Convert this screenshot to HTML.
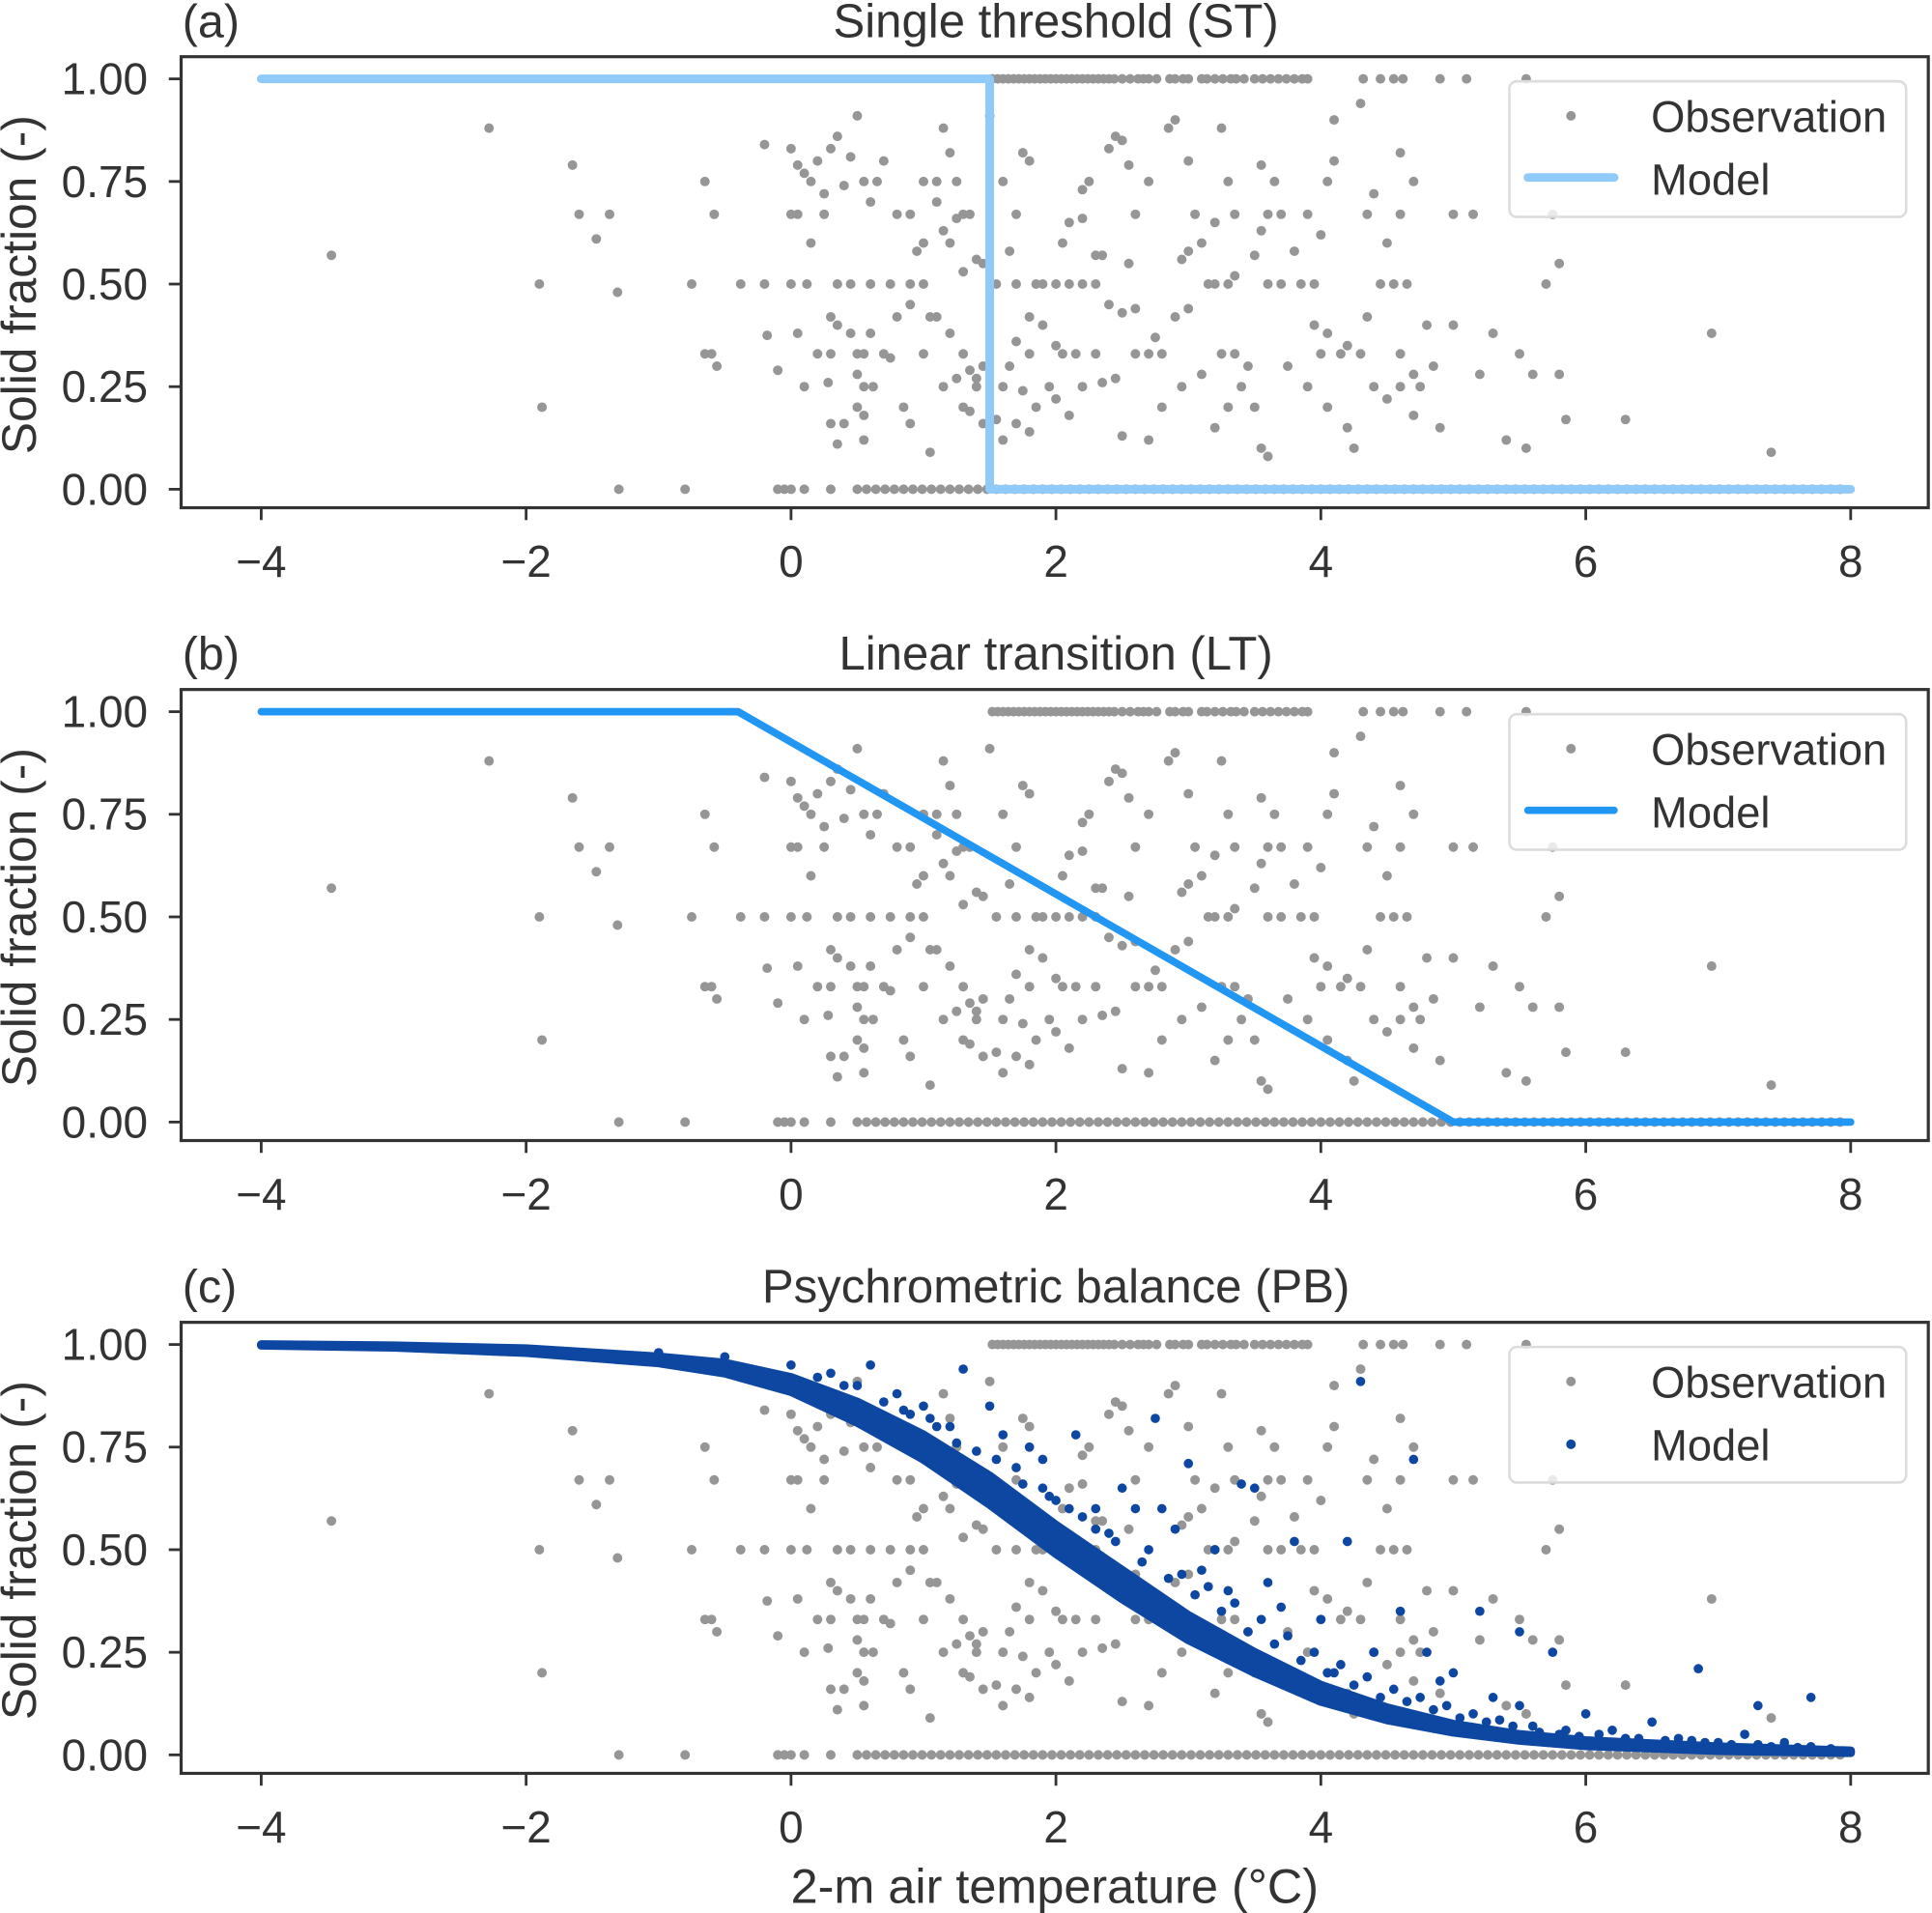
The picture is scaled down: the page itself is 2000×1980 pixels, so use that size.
<!DOCTYPE html>
<html><head><meta charset="utf-8"><style>
html,body{margin:0;padding:0;background:#fff;}
svg{display:block;}
text{font-family:"Liberation Sans",Arial,sans-serif;fill:#333;}
</style></head><body>
<svg id="fig" width="2000" height="1980" viewBox="0 0 1568 1552.3" xmlns="http://www.w3.org/2000/svg"></svg>
<script>
// ---- data ----
const xTicks = [-4, -2, 0, 2, 4, 6, 8];
const yTicks = [0, 0.25, 0.5, 0.75, 1.0];
const yTickLabels = ["0.00", "0.25", "0.50", "0.75", "1.00"];
const panelTitles = ["Single threshold (ST)", "Linear transition (LT)", "Psychrometric balance (PB)"];
const panelLetters = ["(a)", "(b)", "(c)"];
const obsTopX = [1.52,1.56,1.6,1.64,1.68,1.72,1.76,1.8,1.84,1.88,1.92,1.96,2.0,2.04,2.08,2.12,2.16,2.2,2.24,2.28,2.32,2.36,2.4,2.44,2.5,2.56,2.62,2.66,2.7,2.76,2.86,2.9,2.96,3.0,3.1,3.14,3.2,3.26,3.32,3.36,3.42,3.5,3.56,3.62,3.68,3.74,3.8,3.86,3.9,4.32,4.45,4.55,4.62,4.9,5.1,5.55];
const obsBottomX = [-1.3,-0.8,-0.1,-0.05,0.0,0.1,0.3,0.5,0.57,0.64,0.71,0.78,0.85,0.92,0.99,1.06,1.13,1.2,1.27,1.34,1.41,1.48,1.55,1.62,1.69,1.76,1.83,1.9,1.97,2.04,2.11,2.18,2.25,2.32,2.39,2.46,2.53,2.6,2.67,2.74,2.81,2.88,2.95,3.02,3.09,3.16,3.23,3.3,3.37,3.44,3.51,3.58,3.65,3.72,3.79,3.86,3.93,4.0,4.07,4.14,4.21,4.28,4.35,4.42,4.49,4.56,4.63,4.7,4.77,4.84,4.91,4.98,5.05,5.12,5.19,5.26,5.33,5.4,5.47,5.54,5.61,5.68,5.75,5.82,5.89,5.96,6.03,6.1,6.17,6.24,6.31,6.38,6.45,6.52,6.59,6.66,6.73,6.8,6.87,6.94,7.01,7.08,7.15,7.22,7.29,7.36,7.43,7.5,7.57,7.64,7.71,7.78,7.85,7.92];
const obsMidX = [-3.47,-2.28,-1.65,-1.6,-1.37,-1.47,-1.31,-1.9,-1.88,-0.75,-0.65,-0.58,-0.65,-0.6,-0.56,-0.38,-0.2,-0.18,-0.1,-0.2,
0.0,0.05,0.1,0.15,0.2,0.25,0.3,0.35,0.4,0.45,0.0,0.05,0.15,0.25,0.0,0.12,0.35,0.45,0.6,0.75,0.9,1.0,0.05,0.3,0.35,0.45,0.6,0.2,0.3,0.5,0.55,0.7,0.1,0.28,0.5,0.55,0.62,0.5,0.4,0.35,0.55,0.3,0.55,0.85,0.9,0.75,0.8,0.9,0.95,1.0,0.6,0.55,0.65,0.7,0.5,0.8,0.9,1.0,1.1,1.15,1.2,1.25,1.3,1.35,1.4,1.1,1.15,1.2,1.3,1.45,1.05,1.1,1.2,1.3,1.35,1.0,1.15,1.25,1.4,1.3,1.35,1.45,1.05,1.4,1.45,
1.6,1.7,1.8,1.75,1.65,1.55,1.7,1.85,1.9,2.0,2.1,2.2,2.3,1.8,1.9,1.7,2.0,1.65,1.8,1.95,1.6,1.75,1.85,2.0,2.1,1.7,1.8,1.55,1.6,2.05,2.15,2.3,2.2,2.35,2.45,2.6,2.7,2.8,2.4,2.5,2.6,2.75,2.2,2.25,2.4,2.45,2.5,2.55,2.3,2.35,2.1,2.2,2.05,2.6,2.7,2.85,2.9,3.0,3.05,3.15,3.2,3.3,3.35,3.0,2.95,3.1,3.2,3.35,3.3,2.9,3.0,2.8,2.95,3.1,3.25,3.35,3.45,3.4,3.5,3.3,3.2,3.55,3.6,2.7,2.5,
3.6,3.7,3.5,3.55,3.6,3.7,3.8,3.85,3.95,3.55,3.65,3.9,4.0,4.05,4.1,3.95,4.05,4.2,4.0,4.15,4.3,3.75,3.9,4.05,4.2,4.25,4.35,4.45,4.55,4.65,4.4,4.5,4.6,4.7,4.75,4.85,4.6,4.8,4.7,4.9,4.5,4.6,4.4,4.35,4.3,4.6,4.7,5.0,5.15,5.0,5.3,5.2,5.5,5.6,5.55,5.4,5.7,5.8,5.85,6.3,6.95,7.4,5.75,5.8,4.1,3.25,2.55,1.5,1.25];
const obsMidY = [0.57,0.88,0.79,0.67,0.67,0.61,0.48,0.5,0.2,0.5,0.75,0.67,0.33,0.33,0.3,0.5,0.5,0.375,0.29,0.84,
0.83,0.79,0.77,0.75,0.80,0.72,0.83,0.86,0.74,0.81,0.67,0.67,0.6,0.67,0.5,0.5,0.5,0.5,0.5,0.5,0.5,0.5,0.38,0.42,0.4,0.38,0.38,0.33,0.33,0.33,0.33,0.33,0.25,0.26,0.28,0.25,0.25,0.2,0.16,0.11,0.12,0.16,0.18,0.2,0.16,0.32,0.42,0.45,0.58,0.6,0.7,0.75,0.75,0.8,0.91,0.67,0.67,0.75,0.75,0.88,0.82,0.75,0.67,0.67,0.56,0.7,0.63,0.6,0.53,0.55,0.42,0.42,0.38,0.33,0.29,0.33,0.25,0.27,0.25,0.2,0.19,0.16,0.09,0.27,0.3,
0.75,0.67,0.8,0.82,0.58,0.5,0.5,0.5,0.5,0.5,0.5,0.5,0.5,0.42,0.4,0.36,0.35,0.3,0.33,0.25,0.25,0.24,0.2,0.22,0.18,0.16,0.14,0.17,0.12,0.33,0.33,0.33,0.25,0.26,0.27,0.33,0.33,0.33,0.45,0.43,0.44,0.37,0.73,0.75,0.83,0.86,0.85,0.79,0.57,0.57,0.65,0.66,0.6,0.67,0.75,0.88,0.9,0.8,0.67,0.5,0.5,0.5,0.52,0.58,0.56,0.6,0.65,0.67,0.75,0.42,0.44,0.2,0.25,0.28,0.33,0.33,0.3,0.25,0.2,0.2,0.15,0.1,0.08,0.12,0.13,
0.5,0.5,0.57,0.63,0.67,0.67,0.58,0.5,0.5,0.79,0.75,0.67,0.62,0.75,0.8,0.4,0.38,0.35,0.33,0.33,0.33,0.3,0.25,0.2,0.15,0.1,0.42,0.5,0.5,0.5,0.25,0.22,0.25,0.28,0.25,0.3,0.33,0.4,0.18,0.15,0.6,0.67,0.72,0.67,0.94,0.82,0.75,0.67,0.67,0.4,0.38,0.28,0.33,0.28,0.1,0.12,0.5,0.55,0.17,0.17,0.38,0.09,0.67,0.28,0.9,0.88,0.55,0.91,0.66];
// LT model vertices
const ltX = [-4, -0.4, 5.0, 8];
const ltY = [1, 1, 0, 0];
// ST threshold
const stThreshold = 1.5;
// PB model: dense band edges and scattered points
const pbBandX = [-4,-3,-2,-1,-0.5,0,0.5,1,1.5,2,2.5,3,3.5,4,4.5,5,5.5,6,7,8];
const pbBandLow = [0.998,0.993,0.98,0.955,0.93,0.885,0.81,0.72,0.61,0.49,0.38,0.28,0.2,0.13,0.085,0.055,0.035,0.022,0.01,0.005];
const pbBandHigh = [1.0,0.997,0.99,0.97,0.955,0.92,0.86,0.78,0.68,0.56,0.45,0.34,0.25,0.17,0.115,0.075,0.05,0.035,0.02,0.01];
const pbOutX = [-1.0,-0.5,0.0,0.6,1.3,1.5,2.75,2.15,3.0,3.5,4.3,4.7,3.4,2.9,3.8,4.2,4.6,5.2,5.5,5.75,6.0,6.5,6.85,7.3,7.7,7.2,4.0,4.4,3.6,3.2,2.5,1.9,1.0,5.0,4.8,5.5,6.2,5.8,3.3,2.8,1.8,2.3,4.1,0.3,0.8,1.6,2.6,3.7,4.9,5.3,6.7,7.5,1.2,2.0,3.1,
0.2,0.4,0.7,0.9,1.1,1.4,1.7,1.9,2.1,2.3,2.45,2.65,2.85,3.05,3.25,3.45,3.65,3.85,4.05,4.25,4.45,4.65,4.85,5.05,5.25,5.45,5.65,5.95,6.3,6.6,6.9,7.1,7.4,7.6,7.85,
0.5,0.85,1.05,1.25,1.55,1.75,1.95,2.2,2.4,2.7,2.95,3.15,3.35,3.55,3.75,3.95,4.15,4.35,4.55,4.75,4.95,5.15,5.35,5.6,5.85,6.1,6.4,6.8,7.0,7.3,7.7];
const pbOutY = [0.98,0.97,0.95,0.95,0.94,0.85,0.82,0.78,0.71,0.65,0.91,0.72,0.66,0.55,0.52,0.52,0.35,0.35,0.3,0.25,0.1,0.08,0.21,0.12,0.14,0.05,0.33,0.25,0.42,0.5,0.65,0.72,0.85,0.2,0.25,0.12,0.06,0.05,0.4,0.6,0.75,0.6,0.2,0.93,0.88,0.78,0.6,0.36,0.18,0.14,0.04,0.03,0.8,0.62,0.45,
0.92,0.9,0.86,0.83,0.8,0.74,0.7,0.65,0.6,0.55,0.52,0.47,0.43,0.39,0.35,0.3,0.27,0.23,0.2,0.17,0.14,0.13,0.11,0.09,0.08,0.07,0.055,0.045,0.04,0.035,0.03,0.025,0.02,0.018,0.015,
0.9,0.84,0.82,0.76,0.72,0.66,0.63,0.58,0.54,0.5,0.44,0.41,0.37,0.33,0.29,0.25,0.22,0.19,0.16,0.14,0.12,0.1,0.085,0.07,0.06,0.05,0.04,0.035,0.03,0.025,0.02];

// ---- drawing ----
const NS = "http://www.w3.org/2000/svg";
const svg = document.getElementById('fig');
const X0 = 212, X1 = 1502, XL = 147, XR = 1565;
const panelOff = [0, 513.5, 1027];
function sx(v){ return X0 + (v + 4) / 12 * (X1 - X0); }
function mk(tag, attrs, parent){ const e = document.createElementNS(NS, tag); for (const k in attrs) e.setAttribute(k, attrs[k]); (parent||svg).appendChild(e); return e; }

for (let p = 0; p < 3; p++) {
  const off = panelOff[p];
  const sy = v => 397 + off - v * 333;
  const g = mk('g', {});
  
  
  const t = mk('text', {x: 857, y: 30 + off, 'font-size': 38.5, 'text-anchor': 'middle'}, g);
  t.textContent = panelTitles[p];
  
  
  const l = mk('text', {x: 148, y: 30 + off, 'font-size': 38}, g);
  l.textContent = panelLetters[p];
  
  
  const og = mk('g', {fill: '#969696'}, g);
  
  
  obsTopX.forEach(x => { const c = mk('circle', {cx: sx(x), cy: sy(1), r: 3.9}, og);   });
  obsBottomX.forEach(x => { const c = mk('circle', {cx: sx(x), cy: sy(0), r: 3.9}, og);   });
  obsMidX.forEach((x, i) => { const c = mk('circle', {cx: sx(x), cy: sy(obsMidY[i]), r: 3.9}, og);   });
  if (p === 0) {
    const d = `M${sx(-4)},${sy(1)} L${sx(stThreshold)},${sy(1)} L${sx(stThreshold)},${sy(0)} L${sx(8)},${sy(0)}`;
    const m = mk('path', {d, fill: 'none', stroke: '#90caf9', 'stroke-width': 7, 'stroke-linecap': 'round', 'stroke-linejoin': 'round'}, g);
    
    
  } else if (p === 1) {
    const d = ltX.map((x, i) => (i ? 'L' : 'M') + sx(x) + ',' + sy(ltY[i])).join(' ');
    const m = mk('path', {d, fill: 'none', stroke: '#2196f3', 'stroke-width': 6, 'stroke-linecap': 'round', 'stroke-linejoin': 'round'}, g);
    
    
  } else {
    let d = pbBandX.map((x, i) => (i ? 'L' : 'M') + sx(x) + ',' + sy(pbBandHigh[i])).join(' ');
    for (let i = pbBandX.length - 1; i >= 0; i--) d += ' L' + sx(pbBandX[i]) + ',' + sy(pbBandLow[i]);
    d += ' Z';
    const b = mk('path', {d, fill: '#0d47a1', stroke: '#0d47a1', 'stroke-width': 7, 'stroke-linejoin': 'round'}, g);
    
    
    const mg = mk('g', {fill: '#0d47a1'}, g);
    
    
    pbOutX.forEach((x, i) => { const c = mk('circle', {cx: sx(x), cy: sy(pbOutY[i]), r: 3.8}, mg);   });
  }
  const fr = mk('rect', {x: XL, y: 46 + off, width: XR - XL, height: 366, fill: 'none', stroke: '#333', 'stroke-width': 2.5}, g);
  
  
  xTicks.forEach(v => {
    mk('line', {x1: sx(v), x2: sx(v), y1: 412 + off, y2: 422 + off, stroke: '#333', 'stroke-width': 2.2}, g);
    const tl = mk('text', {x: sx(v), y: 468 + off, 'font-size': 36, 'text-anchor': 'middle'}, g);
    tl.textContent = v < 0 ? '\u2212' + Math.abs(v) : String(v);
    
    
  });
  yTicks.forEach((v, i) => {
    mk('line', {x1: XL - 10, x2: XL, y1: sy(v), y2: sy(v), stroke: '#333', 'stroke-width': 2.2}, g);
    const tl = mk('text', {x: 120, y: sy(v) + 12.5, 'font-size': 36, 'text-anchor': 'end'}, g);
    tl.textContent = yTickLabels[i];
    
    
  });
  const yl = mk('text', {x: 0, y: 0, 'font-size': 39, 'text-anchor': 'middle', transform: `translate(29,${231 + off}) rotate(-90)`}, g);
  yl.textContent = 'Solid fraction (-)';
  
  
  const lg = mk('g', {}, g);
  
  
  mk('rect', {x: 1225, y: 66 + off, width: 322, height: 110, rx: 6, fill: 'rgba(255,255,255,0.8)', stroke: '#dcdcdc', 'stroke-width': 2}, lg);
  mk('circle', {cx: 1275, cy: 94 + off, r: 3.9, fill: '#969696'}, lg);
  const lt1 = mk('text', {x: 1340, y: 107 + off, 'font-size': 35.5}, lg);
  lt1.textContent = 'Observation';
  
  
  if (p === 2) mk('circle', {cx: 1275, cy: 145 + off, r: 3.9, fill: '#0d47a1'}, lg);
  else mk('line', {x1: 1240, x2: 1310, y1: 144 + off, y2: 144 + off, stroke: p === 0 ? '#90caf9' : '#2196f3', 'stroke-width': p === 0 ? 7 : 6, 'stroke-linecap': 'round'}, lg);
  const lt2 = mk('text', {x: 1340, y: 158 + off, 'font-size': 35.5}, lg);
  lt2.textContent = 'Model';
  
  
}
const xl = mk('text', {x: 856, y: 1544, 'font-size': 39.5, 'text-anchor': 'middle'});
xl.textContent = '2-m air temperature (\u00B0C)';


</script>
</body></html>
